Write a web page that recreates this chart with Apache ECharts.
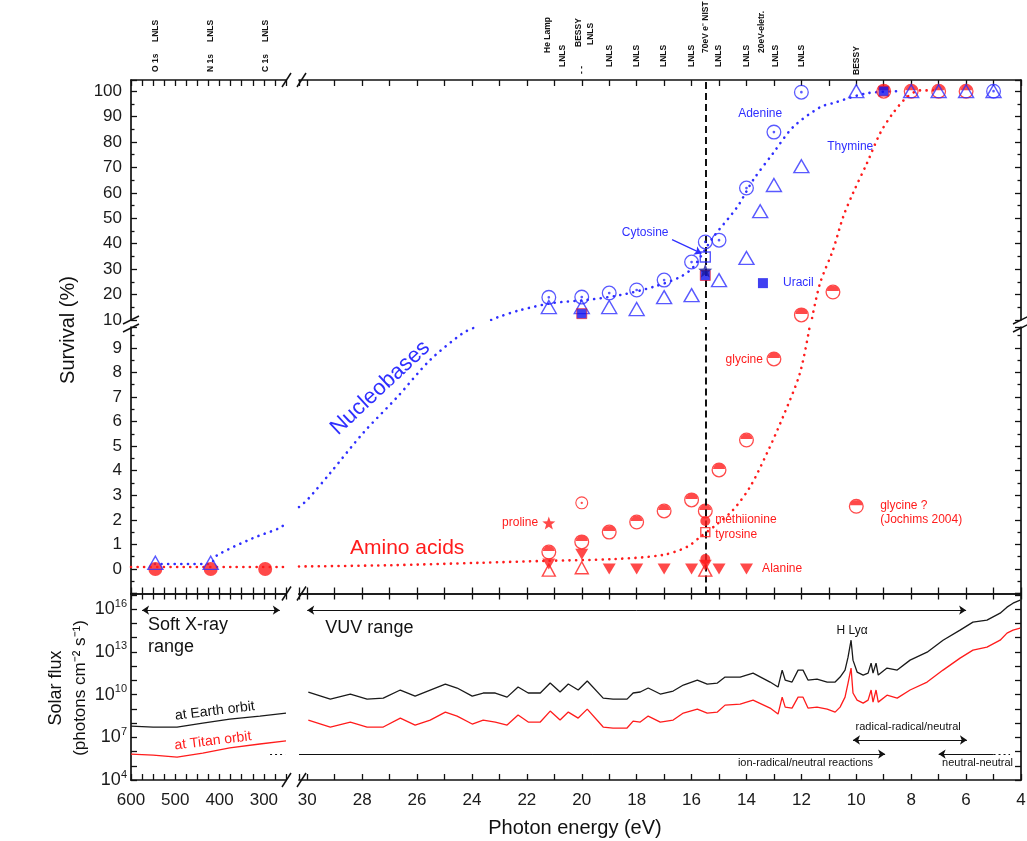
<!DOCTYPE html>
<html><head><meta charset="utf-8">
<script src="https://cdn.jsdelivr.net/npm/echarts@6.0.0/dist/echarts.min.js"></script>
<style>html,body{margin:0;padding:0;background:#fff}#c{width:1027px;height:841px}</style>
</head><body><div id="c"></div>
<script>
// ================= DATA =================
// --- Nucleobases: survival (%) vs photon energy (eV)
const adenineE = [21.2, 20, 19, 18, 17, 16, 15.5, 15, 14, 13, 12, 5];
const adenineS = [18.9, 19.0, 20.6, 21.8, 25.7, 32.8, 40.7, 41.4, 61.9, 83.9, 99.6, 100];
const thymineE = [545, 420, 21.2, 20, 19, 18, 17, 16, 15, 14, 13.5, 13, 12, 10, 8, 7, 6, 5];
const thymineS = [0.25, 0.25, 15.1, 15.1, 15.1, 14.3, 19.0, 19.8, 25.7, 34.4, 52.8, 63.1, 70.5, 100, 100, 100, 100, 100];
const cytosineE = [15.5];
const cytosineS = [34.8];
const uracilE = [20, 15.5, 9];
const uracilS = [12.5, 27.5, 100];
const uracilKeyE = [13.4];
const uracilKeyS = [24.5];
const nucleoStarE = [15.5];
const nucleoStarS = [29.5];
// --- Amino acids
const glycineE = [21.2, 20, 19, 18, 17, 16, 15.5, 15, 14, 13, 12, 10.85, 9, 8, 7, 6];
const glycineS = [0.69, 1.1, 1.5, 1.91, 2.36, 2.81, 2.36, 4.03, 5.25, 8.55, 12.0, 21.0, 100, 100, 100, 100];
const glycineJochimsE = [10];
const glycineJochimsS = [2.55];
const aminoRingE = [20];
const aminoRingS = [2.69];
const prolineE = [21.2];
const prolineS = [1.87];
const methionineE = [15.5, 15.5];
const methionineS = [1.95, 0.4];
const tyrosineE = [15.5];
const tyrosineS = [1.5];
const alanineE = [21.2, 20, 19, 18, 17, 16, 15.5, 15, 14];
const alanineS = [0.2, 0.6, 0, 0, 0, 0, 0.15, 0, 0];
const aminoOpenE = [21.2, 20, 15.5];
const aminoOpenS = [-0.05, 0.05, -0.05];
const aminoXrayE = [545, 420, 297];
const aminoXrayS = [0, 0, 0];
// --- dotted trend curves
const nucleoFitXrayE = [546, 422, 406, 325, 264, 250];
const nucleoFitXrayS = [0.2, 0.2, 0.55, 1.25, 1.67, 1.87];
const nucleoFitLowE = [30.3, 30, 29.16, 27.96, 26.72, 25.52, 24.32, 23.85];
const nucleoFitLowS = [2.52, 2.81, 3.91, 5.54, 7.0, 8.51, 9.61, 9.85];
const nucleoFitHighE = [23.3, 23.08, 22.24, 21.04, 19.8, 18.6, 17.4, 16.42, 15.94, 15.21, 14.34, 13.76, 13.03, 12.3, 11.32, 10.85, 9.61, 8.4];
const nucleoFitHighS = [10.0, 11.0, 13.9, 16.7, 17.9, 19.8, 23.0, 26.9, 30.8, 42.6, 54.4, 65.0, 75.6, 85.9, 93.7, 95.3, 99.2, 100];
const aminoFitXrayE = [600, 250];
const aminoFitXrayS = [0.08, 0.08];
const aminoFitLowE = [30.3, 27, 23.7, 21.26, 18.86, 17.04, 16.16, 15.69, 15.1, 14.49, 13.87, 13.25, 12.67, 12.05, 11.7];
const aminoFitLowS = [0.1, 0.15, 0.25, 0.33, 0.4, 0.57, 0.9, 1.3, 1.8, 2.4, 3.34, 4.72, 6.19, 7.98, 9.85];
const aminoFitHighE = [11.61, 11.32, 10.85, 10.48, 10.12, 9.61, 9.13, 8.66, 8.15, 7.68, 7.2];
const aminoFitHighS = [10.8, 24.5, 37.5, 50.5, 59.9, 71.7, 83.5, 91.4, 97.7, 100.3, 100.3];
// --- Solar flux, log10(photons cm-2 s-1)
const xrayE = [600, 550, 496, 438, 377, 309, 250];
const earthXrayLog = [7.79, 7.72, 7.72, 8.0, 8.28, 8.49, 8.70];
const titanXrayLog = [5.82, 5.75, 5.61, 5.89, 6.25, 6.53, 6.75];
const vuvE = [29.96,29.16,28.43,27.82,27.23,26.61,26.07,25.52,24.97,24.54,23.99,23.59,23.15,22.72,22.32,21.95,21.51,21.15,20.79,20.49,20.13,19.80,19.22,18.86,18.35,18.13,17.87,17.58,17.14,16.67,16.30,15.79,15.43,15.06,14.78,14.23,13.76,13.14,12.85,12.70,12.59,12.34,12.12,11.94,11.76,11.43,11.06,10.77,10.59,10.41,10.30,10.19,10.12,9.97,9.75,9.57,9.46,9.39,9.28,9.20,8.88,8.51,8.04,7.42,6.84,6.22,5.75,5.24,4.76,4.51,4.29,4.03];
const earthVuvLog = [10.18,9.68,10.04,9.68,9.75,10.32,9.89,10.32,10.74,10.46,9.89,10.11,10.11,9.82,10.53,10.11,10.11,10.81,10.18,10.74,10.32,10.95,9.75,9.68,9.68,10.11,10.18,10.46,10.04,10.25,10.67,11.02,10.74,10.81,11.23,11.23,11.51,10.88,10.53,11.72,11.02,10.88,11.72,11.72,11.02,11.09,10.88,10.88,11.23,11.72,12.63,13.82,12.42,11.58,11.37,11.51,12.21,11.51,12.21,11.37,11.86,11.72,12.42,12.98,13.82,14.53,15.09,15.23,15.72,16.14,16.42,16.63];
const titanVuvLog = [8.21,7.72,8.07,7.72,7.72,8.35,7.86,8.21,8.77,8.49,7.93,8.21,8.07,7.86,8.56,8.07,8.07,8.84,8.21,8.77,8.35,8.98,7.72,7.65,7.65,8.14,8.07,8.49,8.07,8.21,8.70,8.98,8.70,8.77,9.26,9.33,9.61,9.05,8.63,9.82,9.12,9.05,9.82,9.82,9.05,9.12,8.98,8.77,9.12,9.82,10.81,11.86,10.11,9.61,9.40,9.61,10.32,9.47,10.32,9.47,9.96,9.75,10.32,10.88,11.72,12.56,13.12,13.33,13.82,14.32,14.53,14.67];
// --- source labels along top axis
const sourceE = [545, 545, 420, 420, 297, 297, 21.26, 20.68, 20.13, 20.0, 19.69, 19, 18, 17, 16, 15.5, 15, 14, 13.45, 12.95, 12, 10];
const sourceText = ['O 1s','LNLS','N 1s','LNLS','C 1s','LNLS','He Lamp','LNLS','BESSY','- -','LNLS','LNLS','LNLS','LNLS','LNLS','70eV e\u207B NIST','LNLS','LNLS','20eV-eletr.','LNLS','LNLS','BESSY'];
// --- tick label sets
const xrayTickLabels = [600, 500, 400, 300];
const fluxExpLabels = [4, 7, 10, 13, 16];

// ================= LAYOUT / STYLE =================
const sourceBottom = [72, 42, 72, 42, 72, 42, 53, 67, 47, 74, 45, 67, 67, 67, 67, 53, 67, 67, 53, 67, 67, 75];
const BLUE = '#2f2fff', RED = '#ff1c1c', BLK = '#111';
const FONT = '"Liberation Sans", Arial, Helvetica, sans-serif';
const chart = echarts.init(document.getElementById('c'), null, {renderer: 'canvas', width: 1027, height: 841});

const GL = {left: 131, width: 155}, GR = {left: 299, width: 722};
const T_UP = {top: 80, height: 240}, T_LO = {top: 327, height: 266.5}, B = {top: 593.5, height: 186.5};
const grids = [
  Object.assign({}, GL, T_UP), Object.assign({}, GR, T_UP),
  Object.assign({}, GL, T_LO), Object.assign({}, GR, T_LO),
  Object.assign({}, GL, B), Object.assign({}, GR, B)
].map(g => Object.assign(g, {containLabel: false, outerBoundsMode: 'none'}));

const isInt = v => Math.abs(v - Math.round(v)) < 1e-6;
const fmtL = v => xrayTickLabels.some(t => Math.abs(t - v) < 1e-6) ? String(Math.round(v)) : '';
const fmtR = v => (isInt(v) && Math.round(v) % 2 === 0) ? String(Math.round(v)) : '';
const fmtU = v => (isInt(v) && Math.round(v) % 10 === 0 && v <= 100) ? String(Math.round(v)) : '';
const fmtD = v => (isInt(v) && v >= 0 && v <= 9) ? String(Math.round(v)) : '';
const fmtF = v => (isInt(v) && fluxExpLabels.indexOf(Math.round(v)) >= 0) ? '{b|10}{s|' + Math.round(v) + '}' : '';

const tickStyle = {color: BLK, width: 1.3};
const lineSt = {color: BLK, width: 1.7};
function mkX(grid, pos, seg, fmt) {
  const r = seg === 'L' ? {min: 250, max: 600, interval: 25} : {min: 4, max: 30.3, interval: 1};
  return Object.assign({type: 'value', gridIndex: grid, position: pos, inverse: true,
    axisLine: {show: true, onZero: false, lineStyle: lineSt},
    axisTick: {show: true, inside: true, length: 6, lineStyle: tickStyle},
    splitLine: {show: false}, minorTick: {show: false},
    axisLabel: fmt ? {show: true, margin: 12, color: '#1a1a1a', fontSize: 17, fontFamily: FONT, formatter: fmt} : {show: false}
  }, r);
}
function mkY(grid, pos, kind, fmt) {
  const r = kind === 'U' ? {min: 10, max: 104.4, interval: 10} : kind === 'D' ? {min: -1, max: 9.85, interval: 1} : {min: 4, max: 17.1, interval: 1};
  const o = Object.assign({type: 'value', gridIndex: grid, position: pos,
    axisLine: {show: true, onZero: false, lineStyle: lineSt},
    axisTick: {show: true, inside: true, length: 6, lineStyle: tickStyle},
    minorTick: {show: kind !== 'F', splitNumber: 2, length: 3.5, lineStyle: tickStyle},
    splitLine: {show: false}, minorSplitLine: {show: false},
    axisLabel: fmt ? {show: true, margin: kind === 'F' ? 4 : 9, color: '#1a1a1a', fontSize: 17, fontFamily: FONT, formatter: fmt} : {show: false}
  }, r);
  if (kind === 'F' && fmt) {
    o.axisLabel.rich = {
      b: {fontSize: 18, fontFamily: FONT, color: '#1a1a1a', lineHeight: 22},
      s: {fontSize: 11, fontFamily: FONT, color: '#1a1a1a', verticalAlign: 'top', lineHeight: 12}
    };
  }
  return o;
}
const xAxes = [
  mkX(0, 'top', 'L'), mkX(1, 'top', 'R'),
  mkX(2, 'bottom', 'L'), mkX(3, 'bottom', 'R'),
  mkX(4, 'top', 'L'), mkX(5, 'top', 'R'),
  mkX(4, 'bottom', 'L', fmtL), mkX(5, 'bottom', 'R', fmtR)
];
const yAxes = [
  mkY(0, 'left', 'U', fmtU), mkY(1, 'right', 'U'),
  mkY(2, 'left', 'D', fmtD), mkY(3, 'right', 'D'),
  mkY(4, 'left', 'F', fmtF), mkY(5, 'right', 'F')
];
const AX = {
  TUL: {xAxisIndex: 0, yAxisIndex: 0}, TUR: {xAxisIndex: 1, yAxisIndex: 1},
  TLL: {xAxisIndex: 2, yAxisIndex: 2}, TLR: {xAxisIndex: 3, yAxisIndex: 3},
  BL: {xAxisIndex: 6, yAxisIndex: 4}, BR: {xAxisIndex: 7, yAxisIndex: 5}
};
const zip = (a, b) => a.map((x, i) => [x, b[i]]);

// symbols
const RING = 'M0,-10A10,10,0,1,1,0,10A10,10,0,1,1,0,-10ZM0,-8.3A8.3,8.3,0,1,0,0,8.3A8.3,8.3,0,1,0,0,-8.3Z';
const SYM_RINGDOT = 'path://' + RING + 'M0,-1.8A1.8,1.8,0,1,1,0,1.8A1.8,1.8,0,1,1,0,-1.8Z';
const SYM_HALF = 'path://' + RING + 'M-8.1,-1.3A8.2,8.2,0,0,1,8.1,-1.3Z';
const SYM_STAR = 'path://M0,-10L2.4,-3.3L9.5,-3.1L3.9,1.3L5.9,8.1L0,4.1L-5.9,8.1L-3.9,1.3L-9.5,-3.1L-2.4,-3.3Z';

let zc = 3;
function scat(name, E, S, st) {
  const parts = {TLL: [], TLR: [], TUR: []};
  E.forEach((e, i) => {
    const s = S[i];
    const k = e > 100 ? 'TLL' : (s >= 10 ? 'TUR' : 'TLR');
    parts[k].push([e, s]);
  });
  const z = zc++;
  return Object.keys(parts).filter(k => parts[k].length).map(k => Object.assign(
    {name: name, type: 'scatter', data: parts[k], z: z, silent: true, animation: false}, AX[k], st));
}
const openSt = (c, sym, size) => ({symbol: sym, symbolSize: size, itemStyle: {color: 'rgba(255,255,255,0)', borderColor: c, borderWidth: 1.4}});
const fillSt = (c, sym, size) => ({symbol: sym, symbolSize: size, itemStyle: {color: c, borderWidth: 0}});

function fit(k, E, S, c) {
  return Object.assign({type: 'line', data: zip(E, S), showSymbol: false, symbol: 'none', smooth: 0.3, z: 2, silent: true, animation: false,
    lineStyle: {color: c, width: 2.6, type: [0.1, 6.5], cap: 'round'}}, AX[k]);
}
function flux(k, E, L, c) {
  return Object.assign({type: 'line', data: zip(E, L), showSymbol: false, symbol: 'none', z: 2, silent: true, animation: false,
    lineStyle: {color: c, width: 1.3}}, AX[k]);
}
function arrow(k, coords, sym, c, type, w) {
  return Object.assign({type: 'lines', coordinateSystem: 'cartesian2d', silent: true, animation: false, z: 6,
    symbol: sym, symbolSize: 7, data: [{coords: coords}],
    lineStyle: {color: c || BLK, width: w || 1, opacity: 1, type: type || 'solid', curveness: 0}}, AX[k]);
}

const series = [].concat(
  fit('TLL', nucleoFitXrayE, nucleoFitXrayS, BLUE),
  fit('TLR', nucleoFitLowE, nucleoFitLowS, BLUE),
  fit('TUR', nucleoFitHighE, nucleoFitHighS, BLUE),
  fit('TLL', aminoFitXrayE, aminoFitXrayS, RED),
  fit('TLR', aminoFitLowE, aminoFitLowS, RED),
  fit('TUR', aminoFitHighE, aminoFitHighS, RED),
  arrow('TUR', [[15.5, 10], [15.5, 104.4]], ['none', 'none'], BLK, [7, 4], 2),
  arrow('TLR', [[15.5, -1], [15.5, 9.85]], ['none', 'none'], BLK, [7, 4], 2),
  scat('amino x-ray', aminoXrayE, aminoXrayS, fillSt(RED, 'circle', 14)),
  scat('glycine', glycineE, glycineS, fillSt(RED, SYM_HALF, 15)),
  scat('glycine Jochims', glycineJochimsE, glycineJochimsS, fillSt(RED, SYM_HALF, 15)),
  scat('amino ring', aminoRingE, aminoRingS, fillSt(RED, SYM_RINGDOT, 13)),
  scat('amino open', aminoOpenE, aminoOpenS, openSt(RED, 'triangle', [13, 12])),
  scat('alanine', alanineE, alanineS, Object.assign(fillSt(RED, 'triangle', [13, 11]), {symbolRotate: 180})),
  scat('proline', prolineE, prolineS, fillSt(RED, SYM_STAR, 13)),
  scat('methionine', methionineE, methionineS, fillSt(RED, 'circle', 10)),
  scat('tyrosine', tyrosineE, tyrosineS, openSt(RED, 'rect', 9)),
  scat('adenine', adenineE, adenineS, fillSt(BLUE, SYM_RINGDOT, 15)),
  scat('thymine', thymineE, thymineS, openSt(BLUE, 'triangle', [15, 13])),
  scat('cytosine', cytosineE, cytosineS, openSt(BLUE, 'rect', 10)),
  scat('uracil', uracilE, uracilS, {symbol: 'rect', symbolSize: 10, itemStyle: {color: '#1010ee', borderColor: RED, borderWidth: 0.8}}),
  scat('uracil key', uracilKeyE, uracilKeyS, fillSt('#1010ee', 'rect', 10)),
  scat('nucleobase star', nucleoStarE, nucleoStarS, fillSt('#1a1a9a', SYM_STAR, 14)),
  arrow('TUR', [[16.71, 41.6], [15.64, 36.2]], ['none', 'arrow'], BLUE, 'solid', 1.2),
  flux('BL', xrayE, earthXrayLog, '#1a1a1a'),
  flux('BL', xrayE, titanXrayLog, RED),
  flux('BR', vuvE, earthVuvLog, '#1a1a1a'),
  flux('BR', vuvE, titanVuvLog, RED),
  arrow('BL', [[575, 15.93], [264, 15.93]], ['arrow', 'arrow']),
  arrow('BR', [[30, 15.93], [6, 15.93]], ['arrow', 'arrow']),
  arrow('BR', [[30.3, 5.82], [8.95, 5.82]], ['none', 'arrow']),
  arrow('BL', [[286, 5.82], [252, 5.82]], ['none', 'none'], BLK, [2, 3]),
  arrow('BR', [[10.12, 6.81], [5.97, 6.81]], ['arrow', 'arrow']),
  arrow('BR', [[7.0, 5.82], [5.0, 5.82]], ['arrow', 'none']),
  arrow('BR', [[5.0, 5.82], [4.4, 5.82]], ['none', 'none'], BLK, [2, 3])
);

chart.setOption({
  animation: false,
  backgroundColor: '#fff',
  grid: grids, xAxis: xAxes, yAxis: yAxes, series: series
});

// ---------- annotations (placed through the axes) ----------
const notes = [
  ['TUR', 13.5, 91.0, 'Adenine', BLUE, 12, 'center', 0],
  ['TUR', 10.22, 78.0, 'Thymine', BLUE, 12, 'center', 0],
  ['TUR', 17.69, 44.2, 'Cytosine', BLUE, 12, 'center', 0],
  ['TUR', 12.67, 24.5, 'Uracil', BLUE, 12, 'left', 0],
  ['TLR', 27.34, 7.37, 'Nucleobases', BLUE, 22, 'center', 43],
  ['TLR', 26.36, 0.86, 'Amino acids', RED, 21, 'center', 0],
  ['TLR', 21.59, 1.87, 'proline', RED, 12, 'right', 0],
  ['TLR', 13.4, 8.51, 'glycine', RED, 12, 'right', 0],
  ['TLR', 15.14, 2.0, 'methiionine', RED, 12, 'left', 0],
  ['TLR', 15.14, 1.38, 'tyrosine', RED, 12, 'left', 0],
  ['TLR', 13.43, 0, 'Alanine', RED, 12, 'left', 0],
  ['TLR', 9.13, 2.57, 'glycine ?', RED, 12, 'left', 0],
  ['TLR', 9.13, 2.0, '(Jochims 2004)', RED, 12, 'left', 0],
  ['BL', 561.7, 14.88, 'Soft X-ray', BLK, 18, 'left', 0],
  ['BL', 561.7, 13.33, 'range', BLK, 18, 'left', 0],
  ['BR', 29.34, 14.67, 'VUV range', BLK, 18, 'left', 0],
  ['BR', 10.15, 14.46, 'H Ly\u03B1', BLK, 12, 'center', 0],
  ['BL', 410.5, 8.84, 'at Earth orbit', BLK, 14, 'center', 7],
  ['BL', 415, 6.74, 'at Titan orbit', RED, 14, 'center', 7],
  ['BR', 9.39, 5.19, 'ion-radical/neutral reactions', BLK, 11, 'right', 0],
  ['BR', 8.11, 7.72, 'radical-radical/neutral', BLK, 11, 'center', 0],
  ['BR', 4.29, 5.19, 'neutral-neutral', BLK, 11, 'right', 0]
];
const P = (k, e, v) => chart.convertToPixel(AX[k], [e, v]);
const gfx = [];
notes.forEach(n => {
  const p = P(n[0], n[1], n[2]);
  gfx.push({type: 'text', x: p[0], y: p[1], rotation: n[7] * Math.PI / 180, silent: true, z: 20,
    style: {text: n[3], fill: n[4], fontSize: n[5], fontFamily: FONT, align: n[6], verticalAlign: 'middle'}});
});
sourceE.forEach((e, i) => {
  const k = e > 100 ? 'TUL' : 'TUR';
  const p = P(k, e, 50);
  gfx.push({type: 'text', x: p[0], y: sourceBottom[i], rotation: Math.PI / 2, silent: true, z: 20,
    style: {text: sourceText[i], fill: BLK, fontSize: 8.5, fontWeight: 'bold', fontFamily: FONT, align: 'left', verticalAlign: 'middle'}});
});
// axis titles
gfx.push({type: 'text', x: 68, y: 330, rotation: Math.PI / 2, silent: true,
  style: {text: 'Survival (%)', fill: BLK, fontSize: 20, fontFamily: FONT, align: 'center', verticalAlign: 'middle'}});
gfx.push({type: 'text', x: 575, y: 828, silent: true,
  style: {text: 'Photon energy (eV)', fill: BLK, fontSize: 20, fontFamily: FONT, align: 'center', verticalAlign: 'middle'}});
gfx.push({type: 'text', x: 56, y: 688, rotation: Math.PI / 2, silent: true,
  style: {text: 'Solar flux', fill: BLK, fontSize: 18, fontFamily: FONT, align: 'center', verticalAlign: 'middle'}});
gfx.push({type: 'text', x: 80, y: 688, rotation: Math.PI / 2, silent: true,
  style: {text: '(photons cm\u207B\u00B2 s\u207B\u00B9)', fill: BLK, fontSize: 17, fontFamily: FONT, align: 'center', verticalAlign: 'middle'}});
// axis break marks
const xL = GL.left + GL.width, xR = GR.left;
[80, 593.5, 780].forEach(y => {
  [xL + 1, xR + 3].forEach(x => gfx.push({type: 'line', silent: true, z: 20,
    shape: {x1: x - 5, y1: y + 7, x2: x + 4, y2: y - 7}, style: {stroke: BLK, lineWidth: 1.5}}));
});
[131, 1021].forEach(x => {
  [320, 328].forEach(y => gfx.push({type: 'line', silent: true, z: 20,
    shape: {x1: x - 8, y1: y + 4, x2: x + 8, y2: y - 4}, style: {stroke: BLK, lineWidth: 1.5}}));
});
chart.setOption({graphic: gfx});
</script></body></html>
